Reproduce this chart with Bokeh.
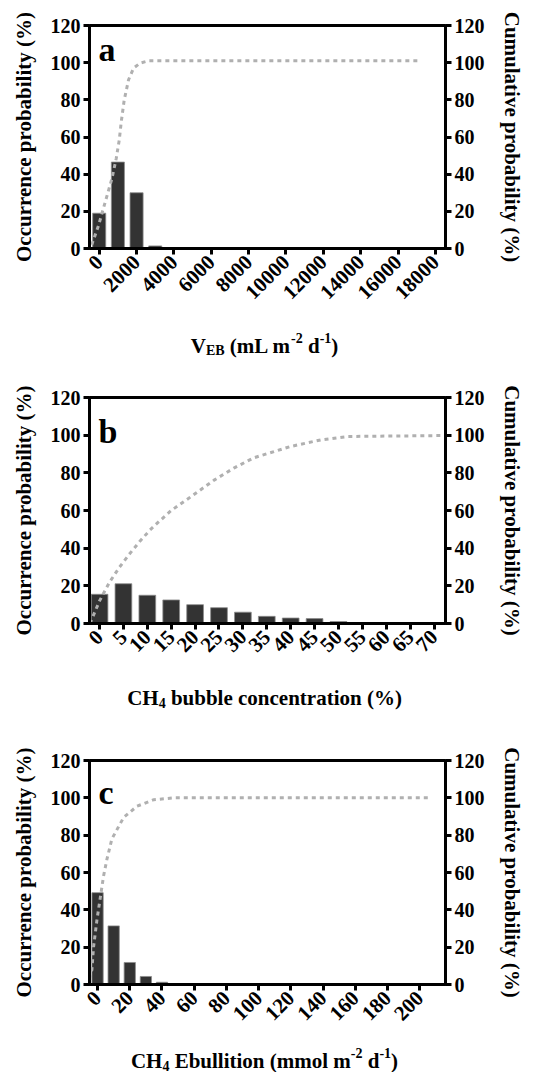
import math
from bokeh.plotting import figure
from bokeh.models import Range1d, LinearAxis, FixedTicker, Label
from bokeh.core.properties import value
from bokeh.layouts import column
from bokeh.embed import file_html
from bokeh.resources import INLINE

# ---------------- data ----------------
# panel a: V_EB (mL m-2 d-1)
a_bins = [0, 1000, 2000, 3000, 4000, 5000, 6000, 7000, 8000, 9000, 10000,
          11000, 12000, 13000, 14000, 15000, 16000, 17000, 18000]
a_occ = [19.0, 46.5, 30.0, 1.4, 0, 0, 0, 0, 0, 0, 0, 0, 0, 0, 0, 0, 0, 0, 0.3]
a_cum_x = [-400, -37, 322, 680, 911, 1072, 1180, 1340, 1572, 1840, 2198, 2645, 17100]
a_cum_y = [2, 12.4, 25, 37.6, 48.4, 58.3, 68.2, 80, 90.8, 97.1, 99.8, 101, 101]
a_ticks = [0, 2000, 4000, 6000, 8000, 10000, 12000, 14000, 16000, 18000]

# panel b: CH4 bubble concentration (%)
b_bins = [0, 5, 10, 15, 20, 25, 30, 35, 40, 45, 50, 55, 60, 65, 70]
b_occ = [15.5, 21.1, 15.0, 12.5, 10.0, 8.4, 6.0, 3.8, 2.9, 2.6, 1.0, 0.3, 0, 0, 0]
b_cum_x = [-2, 0, 2.1, 4.2, 6.3, 8.4, 10.5, 12.6, 15, 19.5, 23.9, 28.1, 32.3, 40, 46.3, 51.9, 71.6]
b_cum_y = [0, 12, 22, 30, 37, 43.5, 49.5, 54.5, 60, 68, 76, 82.5, 88, 94, 97.5, 99.3, 99.8]
b_ticks = [0, 5, 10, 15, 20, 25, 30, 35, 40, 45, 50, 55, 60, 65, 70]

# panel c: CH4 ebullition (mmol m-2 d-1)
c_bins = [0, 10, 20, 30, 40, 50, 60, 70, 80, 90, 100, 110, 120, 130, 140,
          150, 160, 170, 180, 190, 200]
c_occ = [49.2, 31.4, 11.8, 4.3, 1.2, 0.3, 0, 0, 0, 0, 0, 0, 0, 0, 0, 0, 0, 0, 0, 0, 0]
c_cum_x = [-5, -3.5, -2.5, -0.4, 2.1, 3.7, 5.8, 8.9, 16.2, 24.5, 34.9, 47.3, 206.6]
c_cum_y = [3, 8, 20, 34.5, 48.8, 58, 67, 78, 89.5, 95.5, 99, 100, 100]
c_ticks = [0, 20, 40, 60, 80, 100, 120, 140, 160, 180, 200]

y_ticks = [0, 20, 40, 60, 80, 100, 120]

a_title = [("V", 'n'), ("EB", 'sub'), (" (mL m", 'n'), ("-2", 'sup'),
           (" d", 'n'), ("-1", 'sup'), (")", 'n')]
b_title = [("CH", 'n'), ("4", 'sub'), (" bubble concentration (%)", 'n')]
c_title = [("CH", 'n'), ("4", 'sub'), (" Ebullition (mmol m", 'n'), ("-2", 'sup'),
           (" d", 'n'), ("-1", 'sup'), (")", 'n')]

FONT = "Liberation Serif"
BAR = "#333333"
CUM = "#b0b0b0"

# Times/Liberation Serif Bold advance widths (1/1000 em)
W = {' ': 250, '(': 333, ')': 333, '%': 1000, '-': 333, 'A': 722, 'B': 667, 'C': 722,
     'E': 667, 'H': 778, 'L': 667, 'V': 722, 'a': 500, 'b': 556, 'c': 444, 'd': 556,
     'e': 444, 'i': 278, 'l': 278, 'm': 833, 'n': 556, 'o': 500, 'p': 556, 'r': 444,
     't': 333, 'u': 556, 'y': 500, 's': 389}

LEFT, FW, RIGHT = 89, 356, 88


def tw(s, size):
    return sum(W.get(ch, 500) for ch in s) * size / 1000.0


def title_strip(segs, height, baseline, center=264, main=21, small=14):
    # x data units equal page pixels (frame spans page x 89..445)
    s = figure(frame_width=FW, frame_height=height,
               min_border_left=LEFT, min_border_right=RIGHT,
               min_border_top=0, min_border_bottom=0,
               x_range=Range1d(LEFT, LEFT + FW), y_range=Range1d(0, height),
               x_axis_location=None, y_axis_location=None,
               output_backend="svg", toolbar_location=None,
               outline_line_color=None, background_fill_color="white",
               border_fill_color="white")
    s.xgrid.visible = False
    s.ygrid.visible = False
    sizes = [main if k == 'n' else small for _, k in segs]
    widths = [tw(t, sz) for (t, _), sz in zip(segs, sizes)]
    off = center - sum(widths) / 2
    for (t, k), sz, w in zip(segs, sizes, widths):
        lead = len(t) - len(t.lstrip(' '))
        dy = {'n': 0, 'sub': -5, 'sup': 8}[k]
        s.text(x=[off + tw(' ' * lead, sz)], y=[baseline + dy], text=[t.strip(' ')],
               text_font=value(FONT), text_font_size=f"{sz}px",
               text_font_style="bold", text_color="black",
               text_align="left", text_baseline="alphabetic")
        off += w
    return s


def make_panel(bins, occ, cx, cy, ticks, xr, bar_w, frame_h, top, bottom, letter,
               letter_y):
    p = figure(frame_width=FW, frame_height=frame_h,
               min_border_left=LEFT, min_border_right=RIGHT,
               min_border_top=top, min_border_bottom=bottom,
               x_range=Range1d(*xr), y_range=Range1d(0, 120),
               output_backend="svg", toolbar_location=None,
               background_fill_color="white", border_fill_color="white")
    p.extra_y_ranges = {"cum": Range1d(0, 120)}
    p.xgrid.visible = False
    p.ygrid.visible = False
    p.outline_line_color = "black"
    p.outline_line_width = 3

    p.vbar(x=bins, top=occ, width=bar_w, bottom=0, fill_color=BAR,
           line_color="#8c8c8c", line_width=0.8)
    p.line(cx, cy, y_range_name="cum", line_color=CUM, line_width=3,
           line_dash="4 4")

    ax = p.xaxis[0]
    ax.ticker = FixedTicker(ticks=ticks)
    ax.major_label_orientation = math.pi / 4

    ay = p.yaxis[0]
    ay.ticker = FixedTicker(ticks=y_ticks)
    ay.axis_label = "Occurrence probability (%)"

    ry = LinearAxis(y_range_name="cum", ticker=FixedTicker(ticks=y_ticks),
                    axis_label="Cumulative probability (%)")
    p.add_layout(ry, "right")

    for a in (ax, ay, ry):
        a.axis_line_width = 3
        a.axis_line_color = "black"
        a.major_tick_line_width = 3
        a.major_tick_out = 6
        a.major_tick_in = 0
        a.minor_tick_line_color = None
        a.major_label_text_font = FONT
        a.major_label_text_font_style = "bold"
        a.major_label_text_font_size = "20px"
        a.major_label_text_color = "black"
        a.major_label_standoff = 3
        a.axis_label_text_font = FONT
        a.axis_label_text_font_style = "bold"
        a.axis_label_text_font_size = "21px"
        a.axis_label_text_color = "black"
        a.axis_label_standoff = 12
    ax.major_label_text_font_size = "21px"
    ax.major_label_standoff = 4

    p.add_layout(Label(x=xr[0], y=letter_y, x_offset=9, text=letter, text_font=FONT,
                       text_font_size="34px", text_font_style="bold",
                       text_color="black", text_baseline="alphabetic"))
    return p


pa = make_panel(a_bins, a_occ, a_cum_x, a_cum_y, a_ticks, (-520, 18540), 700,
                223, 25, 62, "a", 107)
sa = title_strip(a_title, 50, 15)
pb = make_panel(b_bins, b_occ, b_cum_x, b_cum_y, b_ticks, (-2.1, 72.4), 3.5,
                226, 37, 47, "b", 102)
sb = title_strip(b_title, 45, 18)
pc = make_panel(c_bins, c_occ, c_cum_x, c_cum_y, c_ticks, (-5, 216), 7,
                224, 45, 46, "c", 103)
sc = title_strip(c_title, 42, 12)

layout = column(pa, sa, pb, sb, pc, sc, spacing=0)
open("out.html", "w").write(file_html(layout, INLINE))
